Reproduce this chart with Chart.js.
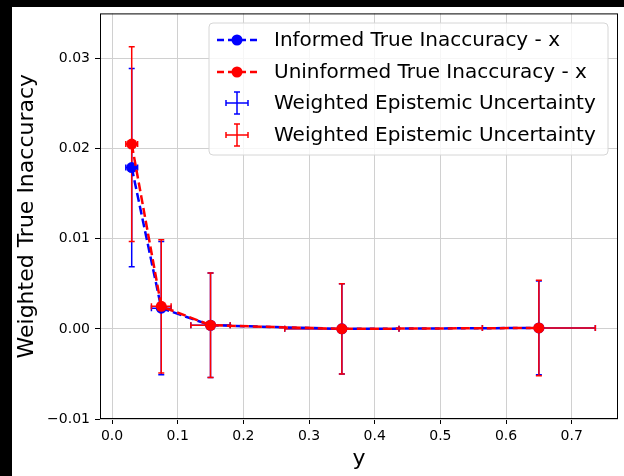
<!DOCTYPE html>
<html>
<head>
<meta charset="utf-8">
<script src="https://cdn.jsdelivr.net/npm/chart.js@4/dist/chart.umd.min.js"></script>
<style>
  html, body { margin: 0; padding: 0; background: #000; }
  #chart { display: block; }
</style>
</head>
<body>
<canvas id="chart" width="624" height="476"></canvas>
<script>
// values
var xVals = [0.03, 0.075, 0.15, 0.35, 0.65];
var informed = [0.0179, 0.0023, 0.0004, 0.0000, 0.0001];
var uninformed = [0.0205, 0.0025, 0.0004, 0.0000, 0.0001];
var informedYErr = [0.0110, 0.0074, 0.0058, 0.0050, 0.0052];
var uninformedYErr = [0.0108, 0.0074, 0.0058, 0.0050, 0.0053];
var xErr = [0.009, 0.015, 0.030, 0.087, 0.086];
var xTicks = [0.0, 0.1, 0.2, 0.3, 0.4, 0.5, 0.6, 0.7];
var yTicks = [-0.01, 0.00, 0.01, 0.02, 0.03];
var legendLabels = [
  'Informed True Inaccuracy - x',
  'Uninformed True Inaccuracy - x',
  'Weighted Epistemic Uncertainty',
  'Weighted Epistemic Uncertainty'
];

var BLUE = '#0000ff';
var RED = '#ff0000';
var FONT = '"DejaVu Sans", sans-serif';

var toPoints = function(ys) {
  return xVals.map(function(x, i) { return {x: x, y: ys[i]}; });
};

var minus = function(s) { return s.replace('-', '\u2212'); };

// matplotlib-like background: black strip left/top, white figure
var background = {
  id: 'background',
  beforeDraw: function(chart) {
    var ctx = chart.ctx;
    ctx.save();
    ctx.fillStyle = '#000';
    ctx.fillRect(0, 0, chart.width, chart.height);
    ctx.fillStyle = '#fff';
    ctx.fillRect(12, 7, chart.width - 12, chart.height - 7);
    ctx.restore();
  }
};

var drawErrors = function(chart, ys, yerr, color) {
  var ctx = chart.ctx, xs = chart.scales.x, sy = chart.scales.y;
  ctx.strokeStyle = color;
  ctx.lineWidth = 1.5;
  xVals.forEach(function(x, i) {
    var px = xs.getPixelForValue(x), py = sy.getPixelForValue(ys[i]);
    var x0 = xs.getPixelForValue(x - xErr[i]), x1 = xs.getPixelForValue(x + xErr[i]);
    var y0 = sy.getPixelForValue(ys[i] - yerr[i]), y1 = sy.getPixelForValue(ys[i] + yerr[i]);
    ctx.beginPath();
    ctx.moveTo(px, y0); ctx.lineTo(px, y1);
    ctx.moveTo(x0, py); ctx.lineTo(x1, py);
    ctx.moveTo(px - 3, y0); ctx.lineTo(px + 3, y0);
    ctx.moveTo(px - 3, y1); ctx.lineTo(px + 3, y1);
    ctx.moveTo(x0, py - 3); ctx.lineTo(x0, py + 3);
    ctx.moveTo(x1, py - 3); ctx.lineTo(x1, py + 3);
    ctx.stroke();
  });
};

var errorBars = {
  id: 'errorBars',
  beforeDatasetsDraw: function(chart) {
    var ctx = chart.ctx, a = chart.chartArea;
    ctx.save();
    ctx.beginPath();
    ctx.rect(a.left, a.top, a.right - a.left, a.bottom - a.top);
    ctx.clip();
    drawErrors(chart, informed, informedYErr, BLUE);
    drawErrors(chart, uninformed, uninformedYErr, RED);
    ctx.restore();
  }
};

var frameAndLegend = {
  id: 'frameAndLegend',
  afterDraw: function(chart) {
    var ctx = chart.ctx, a = chart.chartArea;
    ctx.save();
    // axes frame
    ctx.strokeStyle = '#000';
    ctx.lineWidth = 1;
    ctx.strokeRect(a.left + 0.5, a.top + 0.5, a.right - a.left - 1, a.bottom - a.top - 1);

    // legend box
    var bx = 209, by = 23, bw = 399, bh = 132, r = 4;
    ctx.beginPath();
    ctx.moveTo(bx + r, by);
    ctx.arcTo(bx + bw, by, bx + bw, by + bh, r);
    ctx.arcTo(bx + bw, by + bh, bx, by + bh, r);
    ctx.arcTo(bx, by + bh, bx, by, r);
    ctx.arcTo(bx, by, bx + bw, by, r);
    ctx.closePath();
    ctx.fillStyle = 'rgba(255,255,255,0.8)';
    ctx.fill();
    ctx.strokeStyle = '#d6d6d6';
    ctx.stroke();

    var rows = [40, 72, 103, 135];
    var colors = [BLUE, RED, BLUE, RED];
    ctx.font = '20px ' + FONT;
    ctx.textBaseline = 'middle';
    rows.forEach(function(ry, i) {
      var c = colors[i];
      ctx.strokeStyle = c;
      ctx.fillStyle = c;
      if (i < 2) {
        ctx.lineWidth = 2.5;
        ctx.setLineDash([7, 4]);
        ctx.beginPath();
        ctx.moveTo(217, ry); ctx.lineTo(257, ry);
        ctx.stroke();
        ctx.setLineDash([]);
        ctx.beginPath();
        ctx.arc(237, ry, 5.5, 0, Math.PI * 2);
        ctx.fill();
      } else {
        ctx.lineWidth = 1.5;
        ctx.beginPath();
        ctx.moveTo(237, ry - 11); ctx.lineTo(237, ry + 11);
        ctx.moveTo(226, ry); ctx.lineTo(248, ry);
        ctx.moveTo(234, ry - 11); ctx.lineTo(240, ry - 11);
        ctx.moveTo(234, ry + 11); ctx.lineTo(240, ry + 11);
        ctx.moveTo(226, ry - 3); ctx.lineTo(226, ry + 3);
        ctx.moveTo(248, ry - 3); ctx.lineTo(248, ry + 3);
        ctx.stroke();
      }
      ctx.fillStyle = '#000';
      ctx.fillText(legendLabels[i], 274, ry + 1);
    });
    ctx.restore();
  }
};

new Chart(document.getElementById('chart').getContext('2d'), {
  type: 'scatter',
  data: {
    datasets: [{
      label: legendLabels[0],
      data: toPoints(informed),
      showLine: true,
      borderColor: BLUE,
      backgroundColor: BLUE,
      borderWidth: 2.5,
      borderDash: [9, 4],
      pointRadius: 5.5,
      pointBorderWidth: 0,
      order: 1
    }, {
      label: legendLabels[1],
      data: toPoints(uninformed),
      showLine: true,
      borderColor: RED,
      backgroundColor: RED,
      borderWidth: 2.5,
      borderDash: [9, 4],
      pointRadius: 5.5,
      pointBorderWidth: 0,
      order: 0
    }]
  },
  options: {
    responsive: false,
    animation: false,
    devicePixelRatio: 1,
    layout: { padding: { left: 12, top: 12, right: 6, bottom: 0 } },
    plugins: {
      legend: { display: false },
      tooltip: { enabled: false }
    },
    scales: {
      x: {
        type: 'linear',
        min: -0.0183,
        max: 0.7705,
        afterBuildTicks: function(scale) {
          scale.ticks = xTicks.map(function(v) { return {value: v}; });
        },
        afterFit: function(scale) { scale.height = 57; },
        ticks: {
          color: '#000',
          font: { family: FONT, size: 14 },
          padding: 4,
          maxRotation: 0,
          callback: function(v) { return minus(v.toFixed(1)); }
        },
        grid: { color: '#d0d0d0', lineWidth: 1, tickColor: '#000', tickLength: 5 },
        border: { display: false },
        title: {
          display: true,
          text: 'y',
          color: '#000',
          font: { family: FONT, size: 22 },
          padding: { top: 0, bottom: 4 }
        }
      },
      y: {
        type: 'linear',
        min: -0.01,
        max: 0.035,
        afterBuildTicks: function(scale) {
          scale.ticks = yTicks.map(function(v) { return {value: v}; });
        },
        afterFit: function(scale) { scale.width = 88; },
        ticks: {
          color: '#000',
          font: { family: FONT, size: 14 },
          padding: 5,
          callback: function(v) { return minus(v.toFixed(2)); }
        },
        grid: { color: '#d0d0d0', lineWidth: 1, tickColor: '#000', tickLength: 5 },
        border: { display: false },
        title: {
          display: true,
          text: 'Weighted True Inaccuracy',
          color: '#000',
          font: { family: FONT, size: 22 },
          padding: { top: 2, bottom: 2 }
        }
      }
    }
  },
  plugins: [background, errorBars, frameAndLegend]
});
</script>
</body>
</html>
